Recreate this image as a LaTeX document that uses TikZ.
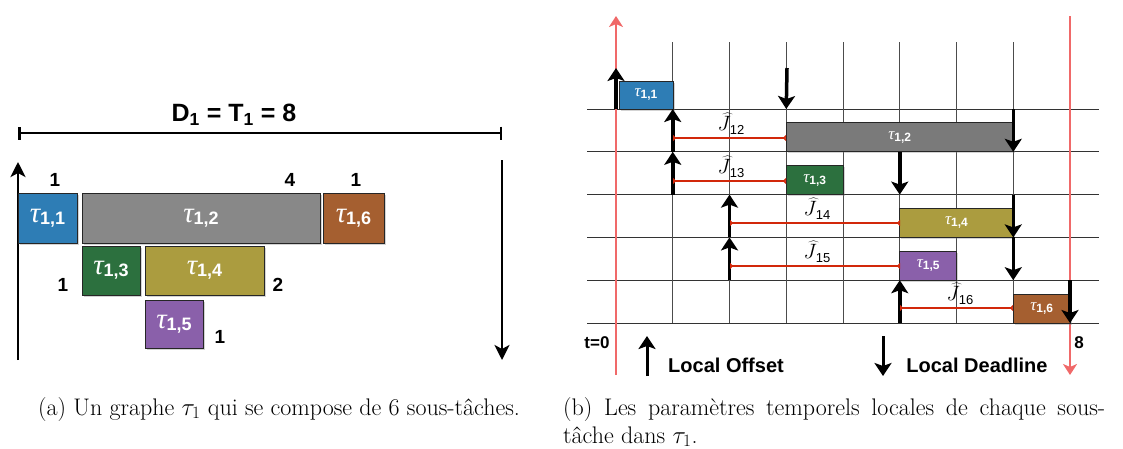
\documentclass[tikz,border=0pt]{standalone}
\usepackage{fontspec}
\newfontfamily\arial{Liberation Sans}
\newfontfamily\tauf{Liberation Serif}
\usetikzlibrary{arrows.meta,shadows}
\definecolor{cblue}{RGB}{46,125,181}
\definecolor{cgrayL}{RGB}{136,136,136}
\definecolor{cgrayR}{RGB}{122,122,122}
\definecolor{cgreen}{RGB}{44,112,62}
\definecolor{colive}{RGB}{171,156,63}
\definecolor{cpurple}{RGB}{138,96,170}
\definecolor{cbrown}{RGB}{165,95,48}
\definecolor{jred}{RGB}{210,40,10}
\definecolor{axred}{RGB}{240,105,105}
\newcommand{\tlab}[3]{\raisebox{2pt}{\tauf\itshape\fontsize{#1}{#1}\selectfont τ}{\arial\bfseries\fontsize{#2}{#2}\selectfont #3}}
\newcommand{\jlab}[1]{{\fontsize{20.74}{20.74}\selectfont$\widehat{J}$}\kern-1pt\raisebox{-4pt}{\arial\fontsize{13}{13}\selectfont #1}}
\begin{document}
\begin{tikzpicture}[x=1pt,y=-1pt,
  box/.style={draw=black!85, line width=0.8pt, inner sep=0pt, outer sep=0pt, text=white,
    drop shadow={shadow xshift=1.5pt,shadow yshift=-1.5pt,opacity=0.35}},
  lbox/.style={box, anchor=north west},
  rbox/.style={box, anchor=south west, minimum height=29pt},
  num/.style={font=\arial\bfseries\fontsize{19}{19}\selectfont},
  bigarrow/.style={line width=2.8pt, -{Stealth[length=15pt,width=15pt,inset=4pt]}},
  tarrow/.style={line width=3.5pt, -{Stealth[length=13pt,width=17pt,inset=3pt]}},
  redaxis/.style={draw=axred, line width=2pt, -{Stealth[length=11pt,width=14pt,inset=3pt]}},
  gridline/.style={draw=black!80, line width=0.8pt},
  jline/.style={draw=jred, line width=1.3pt, {Triangle[reversed,length=3pt,width=6pt]}-{Triangle[reversed,length=3pt,width=6pt]}},
  jtext/.style={inner sep=0pt, anchor=south},
  legend/.style={font=\arial\bfseries\fontsize{20}{20}\selectfont},
  capfont/.style={font=\fontsize{24}{28}\selectfont, inner sep=0pt}
]
\useasboundingbox (0,0) rectangle (1123,448);

% ---------------- left diagram ----------------
\node[font=\arial\bfseries\fontsize{25}{25}\selectfont] (title) at (234,115) {D\textsubscript{1} = T\textsubscript{1} = 8};
\coordinate (dl) at (18,133);
\coordinate (dr) at (502,133);
\draw[line width=2.5pt, {Bar[width=13pt]}-{Bar[width=13pt]}] (dl) -- (dr);
\coordinate (lub) at (18,360);
\coordinate (lut) at (18,162);
\draw[bigarrow] (lub) -- (lut);
\coordinate (ldt) at (502,160);
\coordinate (ldb) at (502,360);
\draw[bigarrow] (ldt) -- (ldb);

\node[lbox, fill=cblue,   minimum width=59pt,  minimum height=50pt] (L11) at (18,193)  {\tlab{29}{18}{1,1}};
\node[lbox, fill=cgrayL,  minimum width=238pt, minimum height=50pt] (L12) at (82,193)  {\tlab{29}{18}{1,2}};
\node[lbox, fill=cbrown,  minimum width=61pt,  minimum height=50pt] (L16) at (323,193) {\tlab{29}{18}{1,6}};
\node[lbox, fill=cgreen,  minimum width=58pt,  minimum height=49pt] (L13) at (82,246)  {\tlab{29}{18}{1,3}};
\node[lbox, fill=colive,  minimum width=119pt, minimum height=49pt] (L14) at (145,246) {\tlab{29}{18}{1,4}};
\node[lbox, fill=cpurple, minimum width=58pt,  minimum height=48pt] (L15) at (145,300) {\tlab{29}{18}{1,5}};

\node[num] (n11) at (55,180)  {1};
\node[num] (n12) at (290,180) {4};
\node[num] (n16) at (356,180) {1};
\node[num] (n13) at (63,285)  {1};
\node[num] (n14) at (278,285) {2};
\node[num] (n15) at (220,337) {1};

% ---------------- right diagram ----------------
\foreach \i in {0,...,8} {
  \foreach \k in {0,...,5} {
    \coordinate (p-\i-\k) at ({616+56.75*\i},{109+42.8*\k});
  }
  \coordinate (vt-\i) at ({616+56.75*\i},42);
}
\foreach \k in {0,...,5} {
  \coordinate (hl-\k) at (587,{109+42.8*\k});
  \coordinate (hr-\k) at (1099,{109+42.8*\k});
  \draw[gridline] (hl-\k) -- (hr-\k);
}
\foreach \i in {1,...,7} {
  \draw[gridline, draw=black!70] (vt-\i) -- (p-\i-5);
}

% red time axes
\coordinate (rl-b) at (616,375);
\coordinate (rl-t) at (616,16);
\coordinate (rr-t) at (1070,16);
\coordinate (rr-b) at (1070,375);
\draw[redaxis] (rl-b) -- (rl-t);
\draw[redaxis] (rr-t) -- (rr-b);

% sub-task boxes
\node[box, fill=cblue, anchor=south west, minimum width=54pt, minimum height=28pt, xshift=3pt] (R11) at (p-0-0) {\tlab{17}{12}{1,1}};
\node[rbox, fill=cgrayR, minimum width=227pt]  (R12) at (p-3-1) {\tlab{17}{12}{1,2}};
\node[rbox, fill=cgreen, minimum width=56.75pt] (R13) at (p-3-2) {\tlab{17}{12}{1,3}};
\node[rbox, fill=colive, minimum width=113.5pt] (R14) at (p-5-3) {\tlab{17}{12}{1,4}};
\node[rbox, fill=cpurple, minimum width=56.75pt] (R15) at (p-5-4) {\tlab{17}{12}{1,5}};
\node[rbox, fill=cbrown, minimum width=56.75pt] (R16) at (p-7-5) {\tlab{17}{12}{1,6}};

% local offsets (up) and deadlines (down)
\coordinate (o1t) at (616,68);
\draw[tarrow] (p-0-0) -- (o1t);
\draw[tarrow] (p-1-1) -- (p-1-0);
\draw[tarrow] (p-1-2) -- (p-1-1);
\draw[tarrow] (p-2-3) -- (p-2-2);
\draw[tarrow] (p-2-4) -- (p-2-3);
\draw[tarrow] (p-5-5) -- (p-5-4);
\coordinate (d1t) at (787,68);
\draw[tarrow] (d1t) -- (p-3-0);
\draw[tarrow] (p-7-0) -- (p-7-1);
\draw[tarrow] (p-5-1) -- (p-5-2);
\draw[tarrow] (p-7-2) -- (p-7-3);
\draw[tarrow] (p-7-3) -- (p-7-4);
\draw[tarrow] (p-8-4) -- (p-8-5);

% jitter lines
\coordinate (j12l) at (673,138); \coordinate (j12r) at (786,138);
\coordinate (j13l) at (673,181); \coordinate (j13r) at (786,181);
\coordinate (j14l) at (730,223); \coordinate (j14r) at (900,223);
\coordinate (j15l) at (730,266); \coordinate (j15r) at (900,266);
\coordinate (j16l) at (900,308); \coordinate (j16r) at (1013,308);
\draw[jline] (j12l) -- (j12r);
\draw[jline] (j13l) -- (j13r);
\draw[jline] (j14l) -- (j14r);
\draw[jline] (j15l) -- (j15r);
\draw[jline] (j16l) -- (j16r);
\node[jtext] (J12) at (731,135) {\jlab{12}};
\node[jtext] (J13) at (731,178) {\jlab{13}};
\node[jtext] (J14) at (817,220) {\jlab{14}};
\node[jtext] (J15) at (817,263) {\jlab{15}};
\node[jtext] (J16) at (960,305) {\jlab{16}};

% legend
\node[legend, font=\arial\bfseries\fontsize{17}{17}\selectfont] (t0) at (597,343) {t=0};
\node[legend, font=\arial\bfseries\fontsize{17}{17}\selectfont] (t8) at (1079,343) {8};
\coordinate (lo-b) at (647,376);
\coordinate (lo-t) at (647,336);
\draw[tarrow, line width=3pt] (lo-b) -- (lo-t);
\node[legend] (lo) at (726,365) {Local Offset};
\coordinate (ld-t) at (883,336);
\coordinate (ld-b) at (883,376);
\draw[tarrow, line width=3pt] (ld-t) -- (ld-b);
\node[legend] (ld) at (977,365) {Local Deadline};

% ---------------- captions ----------------
\node[capfont, anchor=base west] (capa) at (38,415) {(a) Un graphe $\tau_1$ qui se compose de 6 sous-tâches.};
\node[capfont, anchor=base west] (capb1) at (563,415) {\makebox[542pt][s]{(b) Les paramètres temporels locales de chaque sous-}};
\node[capfont, anchor=base west] (capb2) at (563,443) {tâche dans $\tau_1$.};
\end{tikzpicture}
\end{document}
